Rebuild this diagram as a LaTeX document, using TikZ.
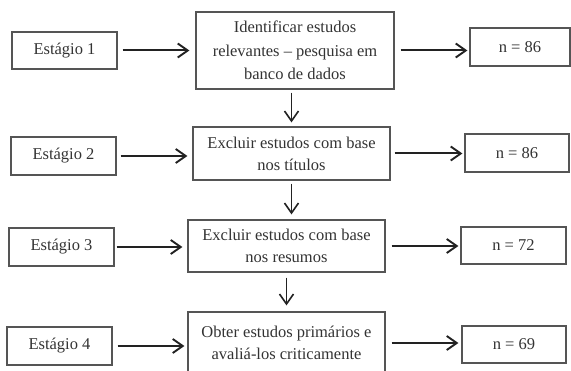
\documentclass[tikz,border=0pt]{standalone}
\usepackage{fontspec}
\setmainfont{Liberation Serif}
\usetikzlibrary{arrows.meta}
\definecolor{boxline}{HTML}{555555}
\definecolor{txt}{HTML}{333333}
\definecolor{arr}{HTML}{222222}
\begin{document}
\begin{tikzpicture}[x=1pt,y=-1pt,
  box/.style={draw=boxline,line width=1.2pt,align=center,text=txt,
    font=\fontsize{16.5}{22}\selectfont,inner sep=0pt},
  harrow/.style={draw=arr,line width=2pt,
    -{Straight Barb[length=10pt,width=14pt,line width=1.9pt]}},
  varrow/.style={draw=arr,line width=1.5pt,
    -{Straight Barb[length=10pt,width=14pt,line width=1.6pt]}}]
\useasboundingbox (0,0) rectangle (571,371);
\clip (0,0) rectangle (571,371);
% stage boxes
\node[box,minimum width=105pt,minimum height=37pt] (e1) at (64.5,50.5) {Estágio 1};
\node[box,minimum width=105pt,minimum height=38pt] (e2) at (63.5,156) {Estágio 2};
\node[box,minimum width=105pt,minimum height=38pt] (e3) at (61.5,247) {Estágio 3};
\node[box,minimum width=105pt,minimum height=38pt] (e4) at (59.5,346) {Estágio 4};
% middle boxes
\node[box,minimum width=198pt,minimum height=77pt,font=\fontsize{16.5}{23.5}\selectfont] (m1) at (295,50.5)
  {Identificar estudos\\relevantes – pesquisa em\\banco de dados};
\node[box,minimum width=197pt,minimum height=53pt] (m2) at (291.5,153.5)
  {Excluir estudos com base\\nos títulos};
\node[box,minimum width=197pt,minimum height=52pt] (m3) at (286.5,246)
  {Excluir estudos com base\\nos resumos};
\node[box,minimum width=197pt,minimum height=62pt] (m4) at (286.5,343)
  {Obter estudos primários e\\avaliá-los criticamente};
% count boxes
\node[box,minimum width=100pt,minimum height=38pt] (n1) at (520,47) {n = 86};
\node[box,minimum width=104pt,minimum height=38pt] (n2) at (517,153) {n = 86};
\node[box,minimum width=105pt,minimum height=37pt] (n3) at (513.5,245.5) {n = 72};
\node[box,minimum width=104pt,minimum height=37pt] (n4) at (514,344.5) {n = 69};
% horizontal arrows
\draw[harrow,shorten <=5pt,shorten >=6pt] (e1.east) -- (e1.east -| m1.west);
\draw[harrow,shorten <=4pt,shorten >=5pt] (e2.east) -- (e2.east -| m2.west);
\draw[harrow,shorten <=2pt,shorten >=5pt] (e3.east) -- (e3.east -| m3.west);
\draw[harrow,shorten <=5pt,shorten >=3pt] (e4.east) -- (e4.east -| m4.west);
\draw[harrow,shorten <=6pt,shorten >=2pt] (m1.east) -- (m1.east -| n1.west);
\draw[harrow,shorten <=4pt,shorten >=2pt] (m2.east) -- (m2.east -| n2.west);
\draw[harrow,shorten <=6pt,shorten >=2pt] (m3.east) -- (m3.east -| n3.west);
\draw[harrow,shorten <=6pt,shorten >=3pt] (m4.east) -- (m4.east -| n4.west);
% vertical arrows
\draw[varrow,shorten <=3pt,shorten >=4pt] (m2.north |- m1.south) -- (m2.north);
\draw[varrow,shorten <=3pt,shorten >=5pt] (m2.south) -- (m2.south |- m3.north);
\draw[varrow,shorten <=5pt,shorten >=6pt] (m3.south) -- (m3.south |- m4.north);
\end{tikzpicture}
\end{document}
